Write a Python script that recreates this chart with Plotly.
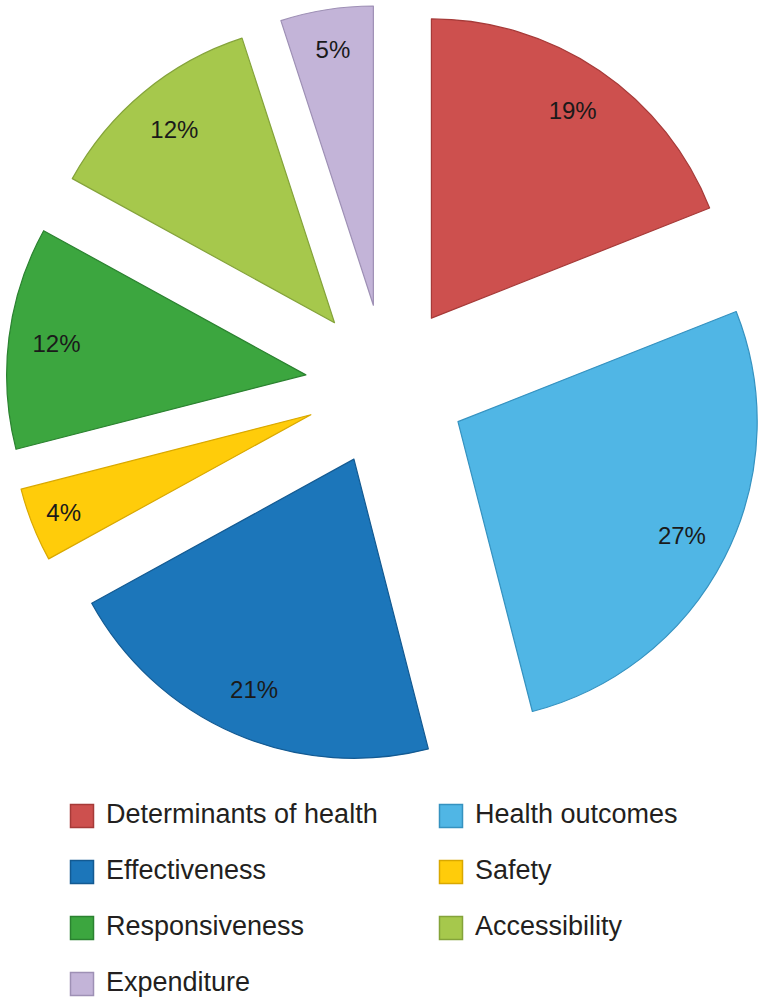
import plotly.graph_objects as go

# ---- data ----
categories = ["Determinants of health", "Health outcomes", "Effectiveness", "Safety",
              "Responsiveness", "Accessibility", "Expenditure"]
shares = [19, 27, 21, 4, 12, 12, 5]
colors = ["#CD504E", "#50B6E5", "#1C76BA", "#FFCC0A", "#3CA63F", "#A6C84C", "#C3B4D8"]
edge_colors = ["#A63A38", "#3592C0", "#135A92", "#D9A800", "#2B8230", "#84A33A", "#9E90B5"]

W, H = 772, 1001
pull = 0.27
pie_top, pie_bottom = 5, 765
dom_y = [1 - pie_bottom / H, 1 - pie_top / H]

fig = go.Figure()

# main exploded pie
fig.add_trace(go.Pie(
    labels=categories, values=shares, sort=False, direction="clockwise", rotation=0,
    pull=[pull] * len(shares),
    marker=dict(colors=colors, line=dict(color=edge_colors, width=1.2)),
    textinfo="none", hoverinfo="label+value", showlegend=False,
    domain=dict(x=[0, 1], y=dom_y),
))

# transparent ring overlay carrying the percentage labels near the outer edge
fig.add_trace(go.Pie(
    labels=categories, values=shares, sort=False, direction="clockwise", rotation=0,
    pull=[pull] * len(shares), hole=0.68,
    marker=dict(colors=["rgba(0,0,0,0)"] * len(shares), line=dict(width=0)),
    texttemplate="%{value}%", textposition="inside", insidetextorientation="horizontal",
    insidetextfont=dict(family="Liberation Sans, Arial, sans-serif", size=24, color="#1a1a1a"),
    hoverinfo="skip", showlegend=False,
    domain=dict(x=[0, 1], y=dom_y),
))

# manual legend (two columns, row-wise order)
cols = [i % 2 for i in range(len(categories))]
rows = [i // 2 for i in range(len(categories))]
col0_px, col_gap_px = 82, 369
row0_px, row_gap_px = 816, 56
text_off = 24 / col_gap_px

fig.add_trace(go.Scatter(
    x=cols, y=rows, mode="markers",
    marker=dict(symbol="square", size=23, color=colors,
                line=dict(color=edge_colors, width=1.5)),
    hoverinfo="skip", showlegend=False,
))
fig.add_trace(go.Scatter(
    x=[c + text_off for c in cols], y=rows, mode="text", text=categories,
    textposition="middle right",
    textfont=dict(family="Liberation Sans, Arial, sans-serif", size=27, color="#231f20"),
    hoverinfo="skip", showlegend=False,
))

fig.update_layout(
    width=W, height=H,
    margin=dict(l=0, r=0, t=0, b=0),
    paper_bgcolor="white", plot_bgcolor="rgba(0,0,0,0)",
    uniformtext=dict(minsize=24, mode="show"),
    xaxis=dict(visible=False, range=[-col0_px / col_gap_px, (W - col0_px) / col_gap_px],
               domain=[0, 1], fixedrange=True),
    yaxis=dict(visible=False, range=[(H - row0_px) / row_gap_px, -row0_px / row_gap_px],
               domain=[0, 1], fixedrange=True),
    showlegend=False,
)

fig.write_html("out.html", config={"displayModeBar": False},
               post_script="document.body.style.margin='0px';")
